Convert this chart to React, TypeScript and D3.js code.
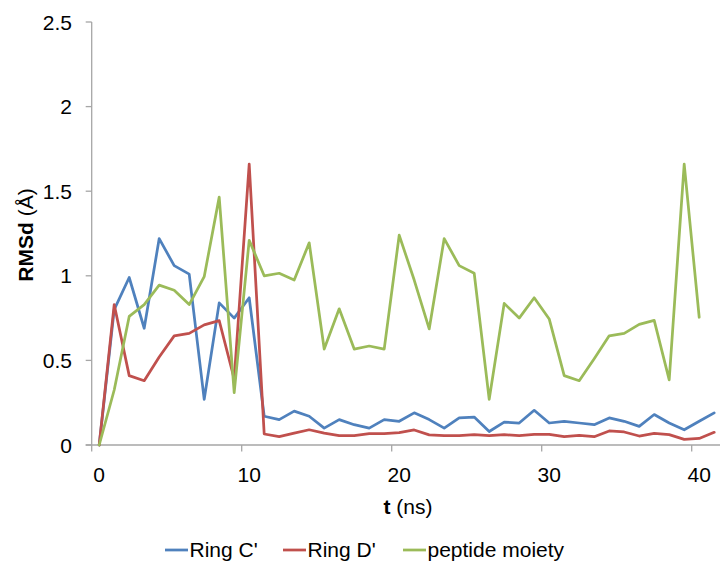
import React from "react";
import * as d3 from "d3";

const times: number[] = [0,1,2,3,4,5,6,7,8,9,10,11,12,13,14,15,16,17,18,19,20,21,22,23,24,25,26,27,28,29,30,31,32,33,34,35,36,37,38,39,40,41];

const ringC: number[] = [0, 0.80, 0.99, 0.69, 1.22, 1.06, 1.01, 0.27, 0.84, 0.75, 0.87, 0.17, 0.15, 0.20,
  0.17, 0.10, 0.15, 0.12, 0.10, 0.15, 0.14, 0.19, 0.15, 0.10, 0.16, 0.165, 0.08,
  0.135, 0.13, 0.205, 0.13, 0.14, 0.13, 0.12, 0.16, 0.14, 0.11, 0.18, 0.13, 0.09, 0.14, 0.19];

const ringD: number[] = [0, 0.83, 0.41, 0.38, 0.52, 0.645, 0.66, 0.71, 0.735, 0.39, 1.66, 0.065, 0.05, 0.07,
  0.09, 0.07, 0.055, 0.055, 0.067, 0.067, 0.073, 0.089, 0.06, 0.055, 0.055, 0.061, 0.055,
  0.061, 0.055, 0.063, 0.063, 0.049, 0.057, 0.049, 0.083, 0.077, 0.053, 0.069, 0.061, 0.033, 0.039, 0.075];

const peptide: number[] = [0, 0.325, 0.76, 0.83, 0.945, 0.915, 0.83, 0.995, 1.465, 0.31, 1.21, 1.0, 1.015, 0.975,
  1.195, 0.567, 0.805, 0.567, 0.585, 0.567, 1.24, 0.975, 0.686, 1.22, 1.06, 1.015, 0.27,
  0.837, 0.75, 0.87, 0.745, 0.41, 0.38, 0.51, 0.645, 0.66, 0.713, 0.737, 0.385, 1.66, 0.755];

const seriesNames: string[] = ["Ring C'", "Ring D'", "peptide moiety"];
const seriesColors: string[] = ["#4F81BD", "#C0504D", "#9BBB59"];
const yTicks: number[] = [0, 0.5, 1, 1.5, 2, 2.5];
const xTickLabels: number[] = [0, 10, 20, 30, 40];

const FONT = "'Liberation Sans', Arial, sans-serif";
const AXIS = "#a6a6a6";

export default function App() {
  const W = 720, H = 566;
  const left = 91.7, right = 721.7, top = 22, bottom = 445;
  const x = d3.scaleLinear().domain([-0.5, times.length - 0.5]).range([left, right]);
  const y = d3.scaleLinear().domain([0, 2.5]).range([bottom, top]);
  const line = d3.line<number>().x((_, i) => x(times[i])).y((d) => y(d));
  const all = [ringC, ringD, peptide];
  const legendX = [165, 283, 403];
  const fs = 21;

  return (
    <svg width={W} height={H} style={{ position: "absolute", left: 0, top: 0, background: "#fff" }}>
      <rect width={W} height={H} fill="#fff" />
      {/* y axis */}
      <line x1={left} x2={left} y1={top} y2={bottom} stroke={AXIS} strokeWidth={1.3} />
      {yTicks.map((t) => (
        <g key={t}>
          <line x1={left - 6} x2={left} y1={y(t)} y2={y(t)} stroke={AXIS} strokeWidth={1.3} />
          <text x={72} y={y(t) + 7.5} textAnchor="end" fontFamily={FONT} fontSize={fs} fill="#000">
            {t}
          </text>
        </g>
      ))}
      {/* x axis */}
      <line x1={left - 6} x2={W} y1={bottom} y2={bottom} stroke={AXIS} strokeWidth={1.3} />
      {xTickLabels.map((t) => (
        <g key={t}>
          <line x1={x(t - 0.5)} x2={x(t - 0.5)} y1={bottom} y2={bottom + 6.5} stroke={AXIS} strokeWidth={1.3} />
          <text x={x(t)} y={482} textAnchor="middle" fontFamily={FONT} fontSize={fs} fill="#000">
            {t}
          </text>
        </g>
      ))}
      {/* series */}
      {all.map((s, k) => (
        <path key={k} d={line(s) || ""} fill="none" stroke={seriesColors[k]} strokeWidth={2.75}
          strokeLinejoin="round" strokeLinecap="round" />
      ))}
      {/* axis titles */}
      <text transform="translate(32.5,235) rotate(-90)" textAnchor="middle" fontFamily={FONT} fontSize={fs} fill="#000">
        <tspan fontWeight="bold">RMSd</tspan> (Å)
      </text>
      <text x={408} y={513.5} textAnchor="middle" fontFamily={FONT} fontSize={fs} fill="#000">
        <tspan fontWeight="bold">t</tspan> (ns)
      </text>
      {/* legend */}
      {seriesNames.map((n, k) => (
        <g key={n}>
          <line x1={legendX[k]} x2={legendX[k] + 23} y1={550} y2={550} stroke={seriesColors[k]} strokeWidth={2.75} />
          <text x={legendX[k] + 24.5} y={557} fontFamily={FONT} fontSize={fs} fill="#000">{n}</text>
        </g>
      ))}
    </svg>
  );
}
